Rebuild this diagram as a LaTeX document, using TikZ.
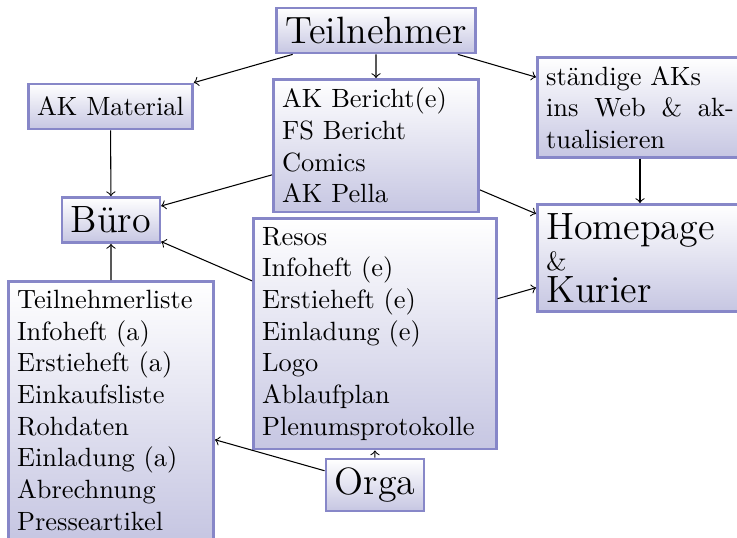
\documentclass[tikz,border=0pt]{standalone}
\definecolor{boxline}{RGB}{135,135,200}
\definecolor{boxshade}{RGB}{198,198,226}
\tikzset{infobox/.style = {draw = boxline, line width = 1pt,
    top color = white, bottom color = boxshade,
    minimum height = 0.6cm
    },
    listbox/.style = {infobox, text width = 2.5cm}
}
\def\bigname#1{{\Large #1}}

\begin{document}
\begin{tikzpicture}[x = 0.3788pt, y = -0.3788pt]

    \useasboundingbox (0,0) rectangle (737,537);

    % \tikzset{arrowline/.style = {->, black}}

    \draw
    (376,30.5) node (teiln) [infobox]{\bigname{Teilnehmer}}
    (110.5,106.5) node (akmat) [infobox]{AK Material}
    (272,78) node (bericht) [listbox, anchor = north west]{AK Bericht(e)\\ FS Bericht\\ Comics\\ AK Pella}
    (536,56) node (staendig) [listbox, align = justify, anchor = north west]{st\"andige AKs\\ ins Web \& ak\-tualisieren}
    (111,220) node (buero) [infobox]{\bigname{B\"uro}}
    (536,203) node (homepage) [listbox, anchor = north west]{\bigname{Homepage}\\ \&\\ \bigname{Kurier}}
    (252,217) node (resos) [listbox, text width = 3cm, anchor = north west]{Resos\\ Infoheft (e)\\ Erstieheft (e)\\ Einladung (e)\\ Logo\\ Ablaufplan\\ Plenumsprotokolle}
    (7,280) node (tliste) [listbox, anchor = north west]{Teilnehmerliste\\ Infoheft (a)\\ Erstieheft (a)\\ Einkaufsliste\\ Rohdaten\\ Einladung (a)\\ Abrechnung\\ Presseartikel}
    (375,485) node (orga) [infobox]{\bigname{Orga}}
    ;

    % von oben nach unten
    \draw[->] (teiln) -- (akmat);
    \draw[->] (teiln) -- (bericht);
    \draw[->] (teiln) -- (staendig);
    \draw[->] (akmat) -- (buero);
    \draw[->] (bericht) -- (buero);
    \draw[->] (bericht) -- (homepage);
    \draw[->] (staendig) -- (homepage);
    \draw[->] (resos) -- (buero);
    \draw[->] (resos) -- (homepage);
    \draw[->] (tliste) -- (buero);
    \draw[->] (orga) -- (tliste);
    \draw[->] (orga) -- (resos);

\end{tikzpicture}
\end{document}
